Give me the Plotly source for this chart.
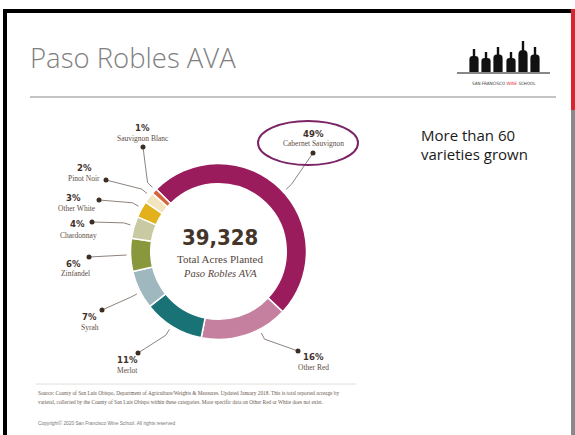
import math
import plotly.graph_objects as go

# 数据
varieties = ["Cabernet Sauvignon", "Other Red", "Merlot", "Syrah", "Zinfandel",
             "Chardonnay", "Other White", "Pinot Noir", "Sauvignon Blanc"]
shares = [49, 16, 11, 7, 6, 4, 3, 2, 1]
total_acres = 39328
slice_colors = ["#9a1c5c", "#c6809f", "#187276", "#9fb7bf", "#8a983d",
                "#c9caa2", "#e3b11b", "#f3e4c0", "#d4643b"]

# 画布 (像素坐标)
W, H = 575, 435
CX, CY, R = 218.5, 251.5, 88

# 标签位置: 百分比中心, 名称中心, 圆点, 引线角度
label_pos = [(313, 133), (313, 356), (127, 359), (89, 316), (73, 263),
             (77, 223), (73, 197), (84, 167), (142, 127)]
name_pos = [(313, 143), (313, 367), (127, 370), (90, 327), (75, 273),
            (78, 235), (77, 208), (84, 178), (143, 138)]
dot_pos = [(313, 153), (298, 351), (138, 353), (102, 310), (89, 257),
           (92, 222), (99, 200), (106, 180), (143, 147)]
leader_angle = [47.4, 152.3, -147.8, -117.5, -92.2, -73.2, -60.5, -50.9, -45.8]

PCT_FONT = "DejaVu Sans, sans-serif"
SERIF = "Liberation Serif, DejaVu Serif, serif"
SLIDE_FONT = "Open Sans, DejaVu Sans, sans-serif"


def condensed(s):
    return f"<span style='font-stretch:condensed'>{s}</span>"


def ring_point(angle, r):
    a = math.radians(angle)
    return CX + r * math.sin(a), CY - r * math.cos(a)


fig = go.Figure()

# 环形图
fig.add_trace(go.Pie(
    labels=varieties,
    values=shares,
    sort=False,
    direction="clockwise",
    rotation=-45,
    hole=0.77,
    textinfo="none",
    marker=dict(colors=slice_colors, line=dict(color="white", width=1.5)),
    domain=dict(x=[(CX - R) / W, (CX + R) / W],
                y=[1 - (CY + R) / H, 1 - (CY - R) / H]),
    showlegend=False,
    hoverinfo="label+percent",
))

# 引线
for ang, (dx, dy) in zip(leader_angle, dot_pos):
    x0, y0 = ring_point(ang, R + 4)
    x1, y1 = ring_point(ang, R + 11)
    fig.add_trace(go.Scatter(
        x=[x0, x1, dx], y=[y0, y1, dy], mode="lines",
        line=dict(color="#6e625a", width=0.8),
        hoverinfo="skip", showlegend=False,
    ))
fig.add_trace(go.Scatter(
    x=[p[0] for p in dot_pos], y=[p[1] for p in dot_pos], mode="markers",
    marker=dict(size=5, color="#3d2e25"),
    hoverinfo="skip", showlegend=False,
))

annotations = []
for name, share, (px, py), (nx, ny) in zip(varieties, shares, label_pos, name_pos):
    annotations.append(dict(x=px, y=py, text=condensed(f"{share}%"), showarrow=False,
                            font=dict(family=PCT_FONT, size=9.5, color="#3f3129",
                                      weight="bold")))
    annotations.append(dict(x=nx, y=ny, text=name, showarrow=False,
                            font=dict(family=SERIF, size=7.5, color="#5e4e44")))

# 中心文字
annotations += [
    dict(x=220, y=237, text=condensed(f"{total_acres:,}"), showarrow=False,
         font=dict(family=PCT_FONT, size=22, color="#44352b", weight="bold")),
    dict(x=220, y=259, text="Total Acres Planted", showarrow=False,
         font=dict(family=SERIF, size=11, color="#55463c")),
    dict(x=220, y=273, text="<i>Paso Robles AVA</i>", showarrow=False,
         font=dict(family=SERIF, size=10.5, color="#55463c")),
]

# 幻灯片文字
annotations += [
    dict(x=28, y=57, text="Paso Robles AVA", showarrow=False, xanchor="left",
         font=dict(family=SLIDE_FONT, size=27.5, color="#808080", weight=300)),
    dict(x=419, y=135, text="More than 60", showarrow=False, xanchor="left",
         font=dict(family=SLIDE_FONT, size=15, color="#1a1a1a")),
    dict(x=419, y=154, text="varieties grown", showarrow=False, xanchor="left",
         font=dict(family=SLIDE_FONT, size=15, color="#1a1a1a")),
    dict(x=503.5, y=83, showarrow=False,
         text=condensed("SAN FRANCISCO <span style='color:#e0303a'>WINE</span> SCHOOL"),
         font=dict(family="DejaVu Sans, sans-serif", size=4.5, color="#333333")),
    dict(x=36, y=393, xanchor="left", showarrow=False,
         text="Source: County of San Luis Obispo, Department of Agriculture/Weights & Measures. "
              "Updated January 2018. This is total reported acreage by",
         font=dict(family=SERIF, size=5.3, color="#6a5a50")),
    dict(x=36, y=402, xanchor="left", showarrow=False,
         text="varietal, collected by the County of San Luis Obispo within these categories. "
              "More specific data on Other Red or White does not exist.",
         font=dict(family=SERIF, size=5.3, color="#6a5a50")),
    dict(x=36, y=423, xanchor="left", showarrow=False,
         text="Copyright© 2020 San Francisco Wine School. All rights reserved",
         font=dict(family="Liberation Sans, sans-serif", size=4.8, color="#777777")),
]

# 形状: 边框, 分隔线, 椭圆, 标志
shapes = [
    dict(type="rect", x0=3, x1=571, y0=9, y1=13, fillcolor="black", line_width=0),
    dict(type="rect", x0=3, x1=7, y0=9, y1=435, fillcolor="black", line_width=0),
    dict(type="rect", x0=571, x1=575, y0=9, y1=110, fillcolor="#d9262e", line_width=0),
    dict(type="rect", x0=571, x1=575, y0=110, y1=435, fillcolor="#8a8a8a", line_width=0),
    dict(type="line", x0=30, x1=556, y0=97, y1=97, line=dict(color="#b0b0b0", width=1.5)),
    dict(type="line", x0=36, x1=356, y0=384, y1=384, line=dict(color="#e2ddd8", width=1)),
    dict(type="circle", x0=258, x1=358, y0=121, y1=165,
         line=dict(color="#7b2466", width=2)),
    dict(type="line", x0=457, x1=550, y0=73, y1=73, line=dict(color="#111111", width=1)),
]
bottle_x = [474, 486, 498, 511, 523, 535]
bottle_top = [49, 52, 47, 52, 41, 47]
for bx, top in zip(bottle_x, bottle_top):
    w, n = 4.6, 1.2
    shoulder = top + (72 - top) * 0.45
    neck = top + (72 - top) * 0.3
    path = (f"M {bx - w},72 L {bx - w},{shoulder} Q {bx - w},{neck} {bx - n},{neck} "
            f"L {bx - n},{top} L {bx + n},{top} L {bx + n},{neck} "
            f"Q {bx + w},{neck} {bx + w},{shoulder} L {bx + w},72 Z")
    shapes.append(dict(type="path", path=path, fillcolor="#111111", line_width=0))

fig.update_layout(
    width=W, height=H,
    margin=dict(l=0, r=0, t=0, b=0),
    paper_bgcolor="white", plot_bgcolor="white",
    xaxis=dict(range=[0, W], visible=False, fixedrange=True),
    yaxis=dict(range=[H, 0], visible=False, fixedrange=True),
    annotations=annotations,
    shapes=shapes,
)

fig.write_html("out.html", config={"displayModeBar": False},
               post_script="document.body.style.margin='0';")
